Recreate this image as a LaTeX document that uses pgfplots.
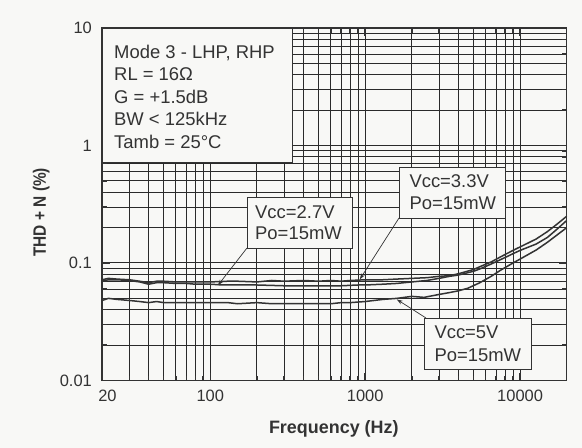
\documentclass[border=0pt]{standalone}
\usepackage{fontspec}
\setmainfont{Liberation Sans}
\usepackage{pgfplots}
\pgfplotsset{compat=1.18}
\usetikzlibrary{arrows.meta}
\definecolor{bg}{HTML}{F8F8F6}
\definecolor{ink}{HTML}{333333}
\definecolor{gridc}{HTML}{2A2A2A}
\begin{document}
\begin{tikzpicture}[x=1bp,y=1bp]
\useasboundingbox (-102,-67.5) rectangle (480,380.5);
\fill[bg] (-102,-67.5) rectangle (480,380.5);
\begin{axis}[
 scale only axis, width=464.7bp, height=352.5bp,
 xmode=log, ymode=log,
 xmin=20, xmax=20000, ymin=0.01, ymax=10,
 xtick={20,100,1000,10000}, xticklabels={\hspace*{10.8bp}20,100,1000,10000},
 ytick={0.01,0.1,1,10}, yticklabels={0.01,0.1,1,10},
 minor xtick={30,40,50,60,70,80,90,200,300,400,500,600,700,800,900,2000,3000,4000,5000,6000,7000,8000,9000},
 minor ytick={0.02,0.03,0.04,0.05,0.06,0.07,0.08,0.09,0.2,0.3,0.4,0.5,0.6,0.7,0.8,0.9,2,3,4,5,6,7,8,9},
 grid=both,
 major grid style={gridc, line width=1.0bp},
 minor grid style={gridc, line width=0.85bp},
 axis line style={ink, line width=1.3bp},
 tick style={ink, line width=1.4bp},
 major tick length=8bp, minor tick length=5bp,
 tick align=inside,
 ticklabel style={font=\fontsize{16.5}{19}\selectfont, text=ink, inner sep=0pt},
 xticklabel style={anchor=base, yshift=-20.5bp},
 yticklabel style={anchor=east, xshift=-10bp},
 axis background/.style={fill=bg},
 clip=false,
]
\addplot[ink, line width=1.5bp] coordinates {
(20,0.072) (22,0.074) (25,0.073) (30,0.072) (35,0.070) (40,0.068) (45,0.070) (50,0.070) (60,0.069) (70,0.069) (80,0.069) (100,0.069) (130,0.070) (150,0.070) (200,0.069) (250,0.071) (300,0.070) (400,0.071) (500,0.070) (600,0.071) (700,0.070) (800,0.071) (1000,0.072) (1300,0.072) (1600,0.073) (2000,0.074) (2500,0.075) (3000,0.077) (3500,0.078) (4000,0.081) (5000,0.088) (5500,0.093) (6500,0.102) (7500,0.113) (9000,0.128) (10000,0.137) (12700,0.160) (15000,0.185) (17000,0.210) (20000,0.250)
};
\addplot[ink, line width=1.5bp] coordinates {
(20,0.070) (22,0.072) (25,0.072) (30,0.071) (35,0.069) (40,0.066) (45,0.068) (50,0.068) (60,0.067) (70,0.067) (80,0.066) (100,0.066) (120,0.065) (150,0.065) (200,0.065) (300,0.064) (400,0.064) (500,0.064) (700,0.064) (900,0.065) (1000,0.065) (1300,0.066) (1600,0.067) (2000,0.069) (2500,0.071) (3000,0.074) (3500,0.077) (4000,0.079) (5000,0.085) (5500,0.089) (6500,0.098) (7500,0.107) (9000,0.120) (10000,0.128) (12700,0.145) (15000,0.165) (17000,0.190) (20000,0.230)
};
\addplot[ink, line width=1.5bp] coordinates {
(20,0.048) (22,0.050) (25,0.049) (30,0.048) (35,0.047) (40,0.046) (45,0.047) (50,0.046) (60,0.046) (70,0.046) (80,0.046) (100,0.046) (130,0.046) (150,0.045) (200,0.046) (250,0.045) (300,0.045) (400,0.045) (500,0.045) (600,0.045) (700,0.046) (800,0.046) (1000,0.047) (1300,0.049) (1600,0.050) (2000,0.052) (2400,0.051) (3000,0.054) (3500,0.056) (4000,0.058) (4600,0.061) (5500,0.068) (6500,0.077) (7500,0.087) (9000,0.100) (10000,0.108) (12700,0.129) (15000,0.150) (17000,0.170) (20000,0.200)
};
\coordinate (a27) at (axis cs:112,0.0645);
\coordinate (a33) at (axis cs:923,0.0725);
\coordinate (a5) at (axis cs:1600,0.049);
\end{axis}
% labels
\node[anchor=base, inner sep=0pt, font=\bfseries\fontsize{18}{21}\selectfont, text=ink] at (231.8,-52.8) {Frequency (Hz)};
\node[anchor=base, inner sep=0pt, font=\bfseries\fontsize{18}{21}\selectfont, text=ink, rotate=90] at (-56,168.2) {\scalebox{0.86}[1]{THD + N (\%)}};
% info box
\draw[ink, line width=0.9bp, fill=bg] (0,352.5) rectangle (190,218.5);
\begin{scope}[every node/.style={anchor=base west, inner sep=0pt, font=\fontsize{18.5}{21}\selectfont, text=ink}]
\node at (12,322.2) {Mode 3 - LHP, RHP};
\node at (12,299.5) {RL = 16Ω};
\node at (12,276.8) {G = +1.5dB};
\node at (12,254.5) {BW < 125kHz};
\node at (12,231.8) {Tamb = 25°C};
\end{scope}
% callouts
\draw[ink, line width=0.7bp, -{Stealth[length=6bp,width=4bp]}] (145,132.5) -- (a27);
\draw[ink, line width=0.7bp, -{Stealth[length=6bp,width=4bp]}] (297,162.5) -- (a33);
\draw[ink, line width=0.7bp, -{Stealth[length=6bp,width=4bp]}] (324,62.5) -- (a5);
\draw[ink, line width=0.9bp, fill=bg] (145,183.5) rectangle (250,132.5);
\draw[ink, line width=0.9bp, fill=bg] (297,213.5) rectangle (403,162.5);
\draw[ink, line width=0.9bp, fill=bg] (322,62.5) rectangle (429,11.5);
\begin{scope}[every node/.style={anchor=base west, inner sep=0pt, font=\fontsize{18.5}{21}\selectfont, text=ink}]
\node at (153,162.2) {Vcc=2.7V};
\node at (153,141.2) {Po=15mW};
\node at (307.3,192.8) {Vcc=3.3V};
\node at (307.3,170.5) {Po=15mW};
\node at (332.3,42.2) {Vcc=5V};
\node at (332.3,18.8) {Po=15mW};
\end{scope}
\end{tikzpicture}
\end{document}
